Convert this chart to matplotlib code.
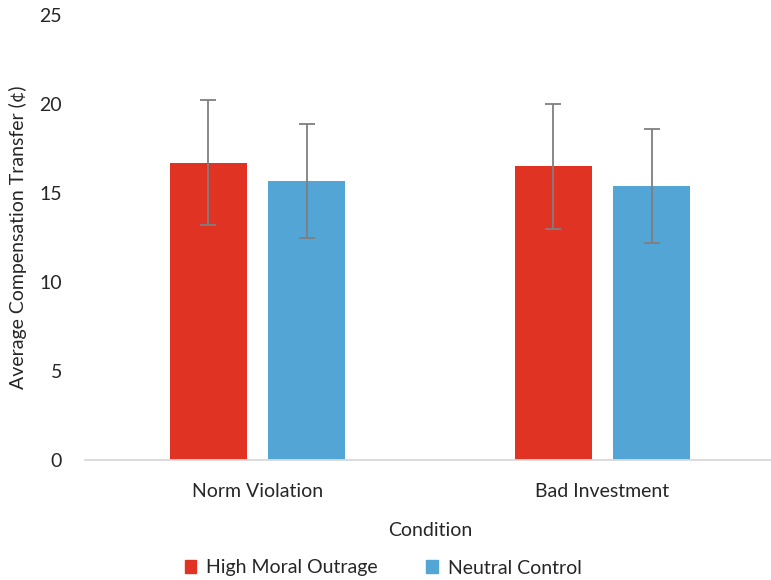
import matplotlib
matplotlib.use("Agg")
import matplotlib.pyplot as plt
import numpy as np
from matplotlib.patches import Patch

categories = ["Norm Violation", "Bad Investment"]
series_names = ["High Moral Outrage", "Neutral Control"]
outrage = [16.7, 16.5]
control = [15.7, 15.4]
outrage_err = [3.5, 3.5]
control_err = [3.2, 3.2]
colors = ["#E03324", "#52A5D4"]
yticks = [0, 5, 10, 15, 20, 25]

plt.rcParams['font.family'] = ['Lato', 'DejaVu Sans']
text_color = "#262626"
fs = 14

fig = plt.figure(figsize=(7.71, 5.8), dpi=100)
ax = fig.add_axes([85/771, 1 - 460/580, 690/771, (460 - 15)/580])

x = np.arange(len(categories))
w = 0.223
off = 0.143
ax.bar(x - off, outrage, w, color=colors[0], zorder=2)
ax.bar(x + off, control, w, color=colors[1], zorder=2)
ax.errorbar(x - off, outrage, yerr=outrage_err, fmt='none', ecolor='#7f7f7f',
            elinewidth=1.3, capsize=5.5, capthick=1.3, zorder=3)
ax.errorbar(x + off, control, yerr=control_err, fmt='none', ecolor='#7f7f7f',
            elinewidth=1.3, capsize=5.5, capthick=1.3, zorder=3)

ax.set_xlim(-0.5, 1.5)
ax.set_ylim(0, 25)
ax.set_yticks(yticks)
ax.set_xticks(x)
ax.set_xticklabels(categories)
ax.tick_params(axis='both', length=0, labelsize=fs, colors=text_color)
ax.tick_params(axis='y', pad=16.5)
ax.tick_params(axis='x', pad=16.5)
for s in ['top', 'right', 'left']:
    ax.spines[s].set_visible(False)
ax.spines['bottom'].set_color('#d9d9d9')
ax.spines['bottom'].set_linewidth(1.3)

ax.set_xlabel("Condition", fontsize=fs, color=text_color, labelpad=16)
ax.set_ylabel("Average Compensation Transfer (¢)", fontsize=fs, color=text_color, labelpad=9)

handles = [Patch(color=colors[0], label=series_names[0]),
           Patch(color=colors[1], label=series_names[1])]
fig.legend(handles=handles, loc='center', bbox_to_anchor=(383/771, 1 - 568/580),
           ncol=2, frameon=False, fontsize=fs, handlelength=0.6, handleheight=0.6,
           handletextpad=0.5, columnspacing=2.5, labelcolor=text_color)

fig.savefig("out.png", dpi=100)
